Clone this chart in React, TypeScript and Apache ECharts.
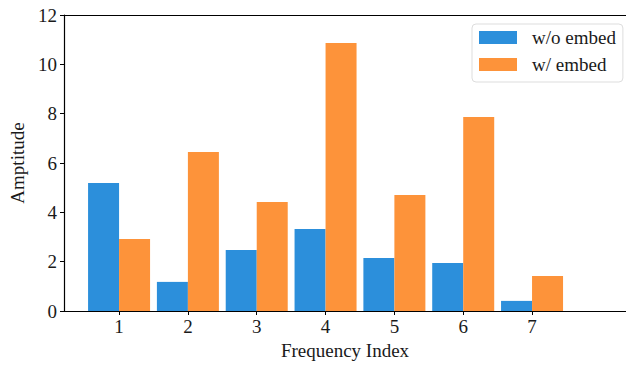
import React, { useEffect, useRef } from "react";
import * as echarts from "echarts";

const frequencyIndex = [1, 2, 3, 4, 5, 6, 7];
const withoutEmbed = [5.19, 1.18, 2.47, 3.32, 2.15, 1.95, 0.41];
const withEmbed = [2.92, 6.45, 4.42, 10.86, 4.7, 7.86, 1.42];
const yTicks = [0, 2, 4, 6, 8, 10, 12];

const FONT = "'Liberation Serif', 'Times New Roman', serif";
const BLUE = "#2C8FDB";
const ORANGE = "#FD933A";

export default function App() {
  const ref = useRef<HTMLDivElement>(null);
  useEffect(() => {
    if (!ref.current) return;
    const chart = echarts.init(ref.current, null, { renderer: "svg" });
    const xMin = 0.2;
    const xMax = 8.365;
    chart.setOption({
      animation: false,
      backgroundColor: "#ffffff",
      textStyle: { fontFamily: FONT },
      grid: { left: 64, right: 0, top: 15, bottom: 54, containLabel: false },
      legend: {
        orient: "vertical",
        left: 472,
        top: 24,
        itemWidth: 38,
        itemHeight: 13,
        itemGap: 8,
        padding: [4, 7, 8, 7],
        borderColor: "#dddddd",
        borderWidth: 1,
        borderRadius: 4,
        backgroundColor: "#ffffff",
        icon: "rect",
        textStyle: {
          fontFamily: FONT,
          fontSize: 19,
          color: "#1a1a1a",
          lineHeight: 19,
          padding: [0, 0, 0, 10],
        },
        data: ["w/o embed", "w/ embed"],
      },
      xAxis: [
        {
          type: "value",
          min: xMin,
          max: xMax,
          position: "bottom",
          name: "Frequency Index",
          nameLocation: "middle",
          nameGap: 30,
          nameTextStyle: { fontFamily: FONT, fontSize: 19, color: "#1a1a1a" },
          splitLine: { show: false },
          axisLine: { show: true, onZero: false, lineStyle: { color: "#000", width: 1.2 } },
          axisTick: {
            show: true,
            length: 4,
            inside: false,
            customValues: frequencyIndex,
            lineStyle: { color: "#000", width: 1 },
          },
          axisLabel: {
            fontFamily: FONT,
            fontSize: 19,
            color: "#1a1a1a",
            margin: 6,
            customValues: frequencyIndex,
            formatter: (v: number) => String(v),
          },
        },
        {
          type: "value",
          min: xMin,
          max: xMax,
          position: "top",
          splitLine: { show: false },
          axisLine: { show: true, onZero: false, lineStyle: { color: "#000", width: 1.2 } },
          axisTick: { show: false },
          axisLabel: { show: false },
        },
      ],
      yAxis: {
        type: "value",
        min: 0,
        max: 12,
        interval: 2,
        name: "Amptitude",
        nameLocation: "middle",
        nameGap: 34,
        nameTextStyle: { fontFamily: FONT, fontSize: 19, color: "#1a1a1a" },
        splitLine: { show: false },
        axisLine: { show: true, lineStyle: { color: "#000", width: 1.2 } },
        axisTick: { show: true, length: 4, lineStyle: { color: "#000", width: 1 } },
        axisLabel: {
          fontFamily: FONT,
          fontSize: 19,
          color: "#1a1a1a",
          margin: 7,
          customValues: yTicks,
        },
      },
      series: [
        {
          name: "w/o embed",
          type: "bar",
          xAxisIndex: 0,
          barWidth: 31,
          barGap: "0%",
          itemStyle: { color: BLUE },
          data: frequencyIndex.map((x, i) => [x, withoutEmbed[i]]),
        },
        {
          name: "w/ embed",
          type: "bar",
          xAxisIndex: 0,
          barWidth: 31,
          barGap: "0%",
          itemStyle: { color: ORANGE },
          data: frequencyIndex.map((x, i) => [x, withEmbed[i]]),
        },
      ],
    });
    return () => chart.dispose();
  }, []);
  return (
    <div
      ref={ref}
      style={{ position: "fixed", left: 0, top: 0, width: 626, height: 365 }}
    />
  );
}
